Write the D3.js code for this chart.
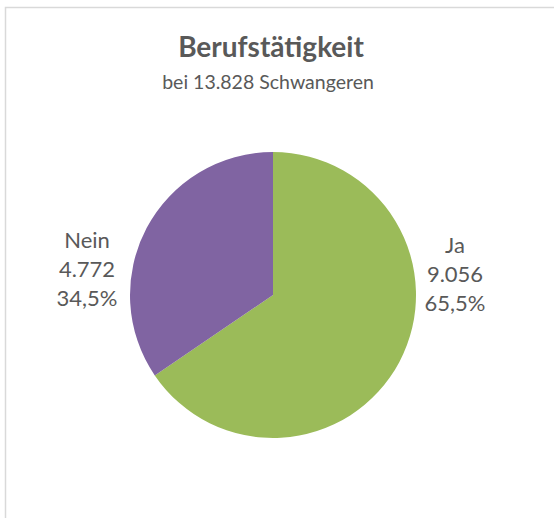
<!DOCTYPE html>
<html>
<head>
<meta charset="utf-8">
<script src="https://cdn.jsdelivr.net/npm/d3@7/dist/d3.min.js"></script>
<style>
  html, body { margin: 0; padding: 0; background: #fff; }
  svg { display: block; }
  text { font-family: Lato, "Open Sans", sans-serif; fill: #595959; }
</style>
</head>
<body>
<svg id="chart" width="554" height="518"></svg>
<script>
const categories = ["Ja", "Nein"];
const values = [9056, 4772];
const percentLabels = ["65,5%", "34,5%"];
const valueLabels = ["9.056", "4.772"];
const colors = ["#9BBB59", "#8064A2"];
const titleText = "Berufstätigkeit";
const subtitleText = "bei 13.828 Schwangeren";

const svg = d3.select("#chart");
const W = 554, H = 518;

// chart frame (extends beyond the viewport on right/bottom)
svg.append("rect")
  .attr("x", 5.5).attr("y", 7.5)
  .attr("width", W + 20).attr("height", H + 20)
  .attr("fill", "#fff")
  .attr("stroke", "#d9d9d9").attr("stroke-width", 1.5);

const cx = 273, cy = 295, r = 143;

svg.append("text")
  .attr("x", 271).attr("y", 57)
  .attr("text-anchor", "middle")
  .style("font-size", "28px").style("font-weight", "bold")
  .text(titleText);

svg.append("text")
  .attr("x", 268).attr("y", 89)
  .attr("text-anchor", "middle")
  .style("font-size", "19.5px")
  .text(subtitleText);

const data = categories.map((c, i) => ({ cat: c, value: values[i], val: valueLabels[i], pct: percentLabels[i], color: colors[i] }));

const pie = d3.pie().value(d => d.value).sort(null);
const arc = d3.arc().innerRadius(0).outerRadius(r);

const g = svg.append("g").attr("transform", `translate(${cx},${cy})`);
const arcs = pie(data);

g.selectAll("path")
  .data(arcs)
  .join("path")
  .attr("d", arc)
  .attr("fill", d => d.data.color);

// labels beside the pie (outside end, best fit)
const lineH = 29;
const labelPos = a => {
  const mid = (a.startAngle + a.endAngle) / 2;
  const right = Math.sin(mid) > 0;
  return right ? { x: r + 39, y: -42 } : { x: -(r + 43), y: -47 };
};

const lg = g.selectAll("g.lbl")
  .data(arcs)
  .join("g")
  .attr("class", "lbl")
  .attr("transform", d => { const p = labelPos(d); return `translate(${p.x},${p.y})`; });

lg.each(function(d) {
  const t = d3.select(this).append("text")
    .attr("text-anchor", "middle")
    .style("font-size", "22px");
  [d.data.cat, d.data.val, d.data.pct].forEach((s, i) => {
    t.append("tspan").attr("x", 0).attr("y", i * lineH).text(s);
  });
});
</script>
</body>
</html>
